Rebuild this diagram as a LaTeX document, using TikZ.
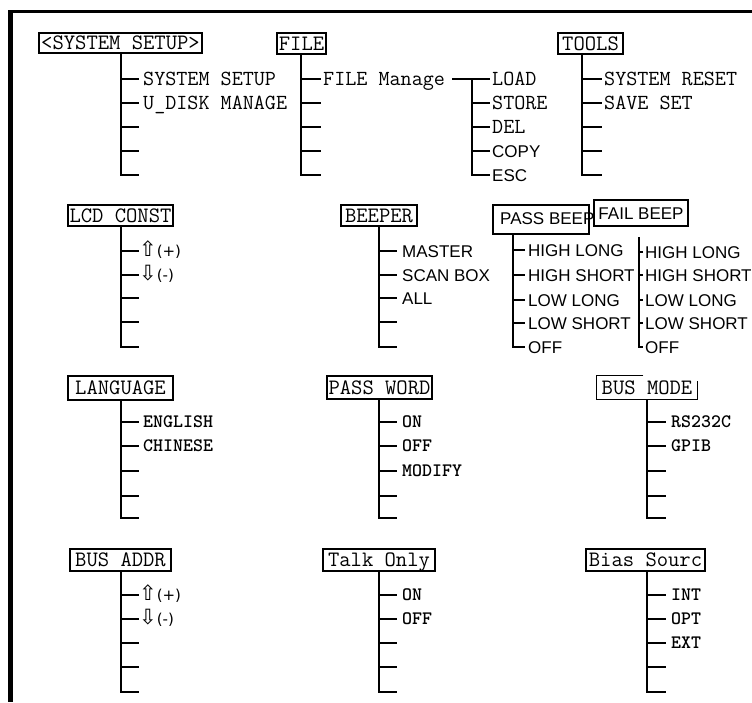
\documentclass[tikz,border=0pt]{standalone}
\usepackage{fontspec}
\newfontfamily\sansf{Liberation Sans}
\newfontfamily\symf{DejaVu Sans}
\tikzset{
  boxs/.style={draw, line width=1.1pt, inner sep=0pt, font=\ttfamily\fontsize{22}{24}\selectfont, text height=13.4pt, text depth=0pt},
  boxsans/.style={draw, line width=1.1pt, inner sep=0pt, font=\sansf\fontsize{17}{18}\selectfont, text height=12.2pt, text depth=0pt},
  tl/.style={anchor=west, inner sep=0pt, font=\ttfamily\fontsize{21.5}{24}\selectfont, text height=13.1pt, text depth=0pt},
  bl/.style={anchor=west, inner sep=0pt, font=\ttfamily\bfseries\fontsize{19}{22}\selectfont, text height=11.6pt, text depth=0pt},
  sl/.style={anchor=west, inner sep=0pt, font=\sansf\fontsize{17}{18}\selectfont, text height=12.2pt, text depth=0pt},
  al/.style={anchor=west, inner sep=0pt, font=\symf\fontsize{15}{16}\selectfont, text height=11pt, text depth=0pt},
  ln/.style={line width=1.4pt},
}
\newcommand\arw[1]{{\fontsize{21}{22}\selectfont #1}}
\newcommand\mtree[3]{%
  \foreach \yy [count=\i] in {#3} {\coordinate (#1b\i) at (#2,\yy);}
  \draw[ln] (#1t) |- (#1b5);
  \foreach \i in {1,...,4} {\draw[ln] (#1b\i -| #1t) -- (#1b\i);}
}
\begin{document}
\begin{tikzpicture}[x=1pt,y=-1pt]
\useasboundingbox (0,0) rectangle (752,702);
% frame
\draw[line width=4.5pt] (10.5,10) -- (10.5,702);
\draw[line width=3pt] (8.5,11.5) -- (752,11.5);

% SYSTEM SETUP
\node[boxs, minimum width=163, minimum height=20] (m1) at (120.5,43) {<SYSTEM SETUP>};
\path (121,0) coordinate (m1x);
\coordinate (m1t) at (m1.south -| m1x);
\mtree{m1}{139}{79,103,127,151,175}
\node[tl] (m1l1) at ([xshift=4pt]m1b1) {SYSTEM SETUP};
\node[tl] (m1l2) at ([xshift=4pt]m1b2) {U\_DISK MANAGE};

% FILE
\node[boxs, minimum width=49, minimum height=21] (m2) at (301.5,43.5) {FILE};
\path (301,0) coordinate (m2x);
\coordinate (m2t) at (m2.south -| m2x);
\mtree{m2}{321}{79,103,127,151,175}
\node[tl] (m2l1) at ([xshift=2pt]m2b1) {FILE Manage};
\path (472,0) coordinate (fsx);
\coordinate (fst) at (fsx |- m2b1);
\mtree{fs}{490}{79,103,127,151,175}
\draw[ln] ([xshift=7pt]m2l1.east) -- (fst);
\node[tl] (fsl1) at ([xshift=2pt]fsb1) {LOAD};
\node[tl] (fsl2) at ([xshift=2pt]fsb2) {STORE};
\node[tl] (fsl3) at ([xshift=2pt]fsb3) {DEL};
\node[sl] (fsl4) at ([xshift=2pt]fsb4) {COPY};
\node[sl] (fsl5) at ([xshift=2pt]fsb5) {ESC};

% TOOLS
\node[boxs, minimum width=65, minimum height=21] (m3) at (590.5,43.5) {TOOLS};
\path (582,0) coordinate (m3x);
\coordinate (m3t) at (m3.south -| m3x);
\mtree{m3}{602}{79,103,127,151,175}
\node[tl] (m3l1) at ([xshift=2pt]m3b1) {SYSTEM RESET};
\node[tl] (m3l2) at ([xshift=2pt]m3b2) {SAVE SET};

% LCD CONST
\node[boxs, minimum width=105, minimum height=21] (m4) at (120.5,215.5) {LCD CONST};
\path (121,0) coordinate (m4x);
\coordinate (m4t) at (m4.south -| m4x);
\mtree{m4}{139}{251,275,298,322,347}
\node[al] (m4l1) at ([xshift=0pt]m4b1) {\arw{⇧}(+)};
\node[al] (m4l2) at ([xshift=0pt]m4b2) {\arw{⇩}(-)};

% BEEPER
\node[boxs, minimum width=76, minimum height=21] (m5) at (379,215.5) {BEEPER};
\path (379,0) coordinate (m5x);
\coordinate (m5t) at (m5.south -| m5x);
\mtree{m5}{397}{251,275,298,322,347}
\node[sl] (m5l1) at ([xshift=5pt]m5b1) {MASTER};
\node[sl] (m5l2) at ([xshift=5pt]m5b2) {SCAN BOX};
\node[sl] (m5l3) at ([xshift=5pt]m5b3) {ALL};

% PASS BEEP
\node[draw, line width=1.1pt, inner sep=0pt, minimum width=96, minimum height=29] (m6) at (541,219.5) {};
\node[sl] (m6txt) at (500,218) {PASS BEEP};
\path (513,0) coordinate (m6x);
\coordinate (m6t) at (m6.south -| m6x);
\mtree{m6}{525}{250,275,300,323,347}
\node[sl] (m6l1) at ([xshift=3pt]m6b1) {HIGH LONG};
\node[sl] (m6l2) at ([xshift=3pt]m6b2) {HIGH SHORT};
\node[sl] (m6l3) at ([xshift=3pt]m6b3) {LOW LONG};
\node[sl] (m6l4) at ([xshift=3pt]m6b4) {LOW SHORT};
\node[sl] (m6l5) at ([xshift=3pt]m6b5) {OFF};

% FAIL BEEP
\node[boxsans, minimum width=94, minimum height=26] (m7) at (641,213) {FAIL BEEP};
\coordinate (m7t) at (639,237);
\mtree{m7}{643}{252,275,300,323,347}
\node[sl] (m7l1) at ([xshift=2pt]m7b1) {HIGH LONG};
\node[sl] (m7l2) at ([xshift=2pt]m7b2) {HIGH SHORT};
\node[sl] (m7l3) at ([xshift=2pt]m7b3) {LOW LONG};
\node[sl] (m7l4) at ([xshift=2pt]m7b4) {LOW SHORT};
\node[sl] (m7l5) at ([xshift=2pt]m7b5) {OFF};

% LANGUAGE
\node[boxs, minimum width=105, minimum height=24] (m8) at (120.5,388) {LANGUAGE};
\path (121,0) coordinate (m8x);
\coordinate (m8t) at (m8.south -| m8x);
\mtree{m8}{139}{422,446,471,496,518}
\node[bl] (m8l1) at ([xshift=4pt]m8b1) {ENGLISH};
\node[bl] (m8l2) at ([xshift=4pt]m8b2) {CHINESE};

% PASS WORD
\node[boxs, minimum width=105, minimum height=23] (m9) at (379.5,387.5) {PASS WORD};
\path (379,0) coordinate (m9x);
\coordinate (m9t) at (m9.south -| m9x);
\mtree{m9}{397}{422,446,471,496,518}
\node[bl] (m9l1) at ([xshift=5pt]m9b1) {ON};
\node[bl] (m9l2) at ([xshift=5pt]m9b2) {OFF};
\node[bl] (m9l3) at ([xshift=5pt]m9b3) {MODIFY};

% BUS MODE
\node[boxs, draw=none, minimum width=100, minimum height=23] (m10) at (647,387.5) {BUS MODE};
\draw[line width=1.1pt] ([xshift=47pt]m10.north west) -- (m10.north west) -- (m10.south west) -- (m10.south east) -- ([yshift=-6pt]m10.north east);
\path (647,0) coordinate (m10x);
\coordinate (m10t) at (m10.south -| m10x);
\mtree{m10}{666}{422,446,471,496,518}
\node[bl] (m10l1) at ([xshift=5pt]m10b1) {RS232C};
\node[bl] (m10l2) at ([xshift=5pt]m10b2) {GPIB};

% BUS ADDR
\node[boxs, minimum width=101, minimum height=22] (m11) at (120.5,560) {BUS ADDR};
\path (121,0) coordinate (m11x);
\coordinate (m11t) at (m11.south -| m11x);
\mtree{m11}{139}{595,619,643,667,692}
\node[al] (m11l1) at ([xshift=0pt]m11b1) {\arw{⇧}(+)};
\node[al] (m11l2) at ([xshift=0pt]m11b2) {\arw{⇩}(-)};

% Talk Only
\node[boxs, minimum width=112, minimum height=22] (m12) at (379,560) {Talk Only};
\path (379,0) coordinate (m12x);
\coordinate (m12t) at (m12.south -| m12x);
\mtree{m12}{397}{595,619,643,667,692}
\node[bl] (m12l1) at ([xshift=5pt]m12b1) {ON};
\node[bl] (m12l2) at ([xshift=5pt]m12b2) {OFF};

% Bias Sourc
\node[boxs, minimum width=119, minimum height=22] (m13) at (645.5,560) {Bias Sourc};
\path (647,0) coordinate (m13x);
\coordinate (m13t) at (m13.south -| m13x);
\mtree{m13}{666}{595,619,643,667,692}
\node[bl] (m13l1) at ([xshift=5pt]m13b1) {INT};
\node[bl] (m13l2) at ([xshift=5pt]m13b2) {OPT};
\node[bl] (m13l3) at ([xshift=5pt]m13b3) {EXT};
\end{tikzpicture}
\end{document}
